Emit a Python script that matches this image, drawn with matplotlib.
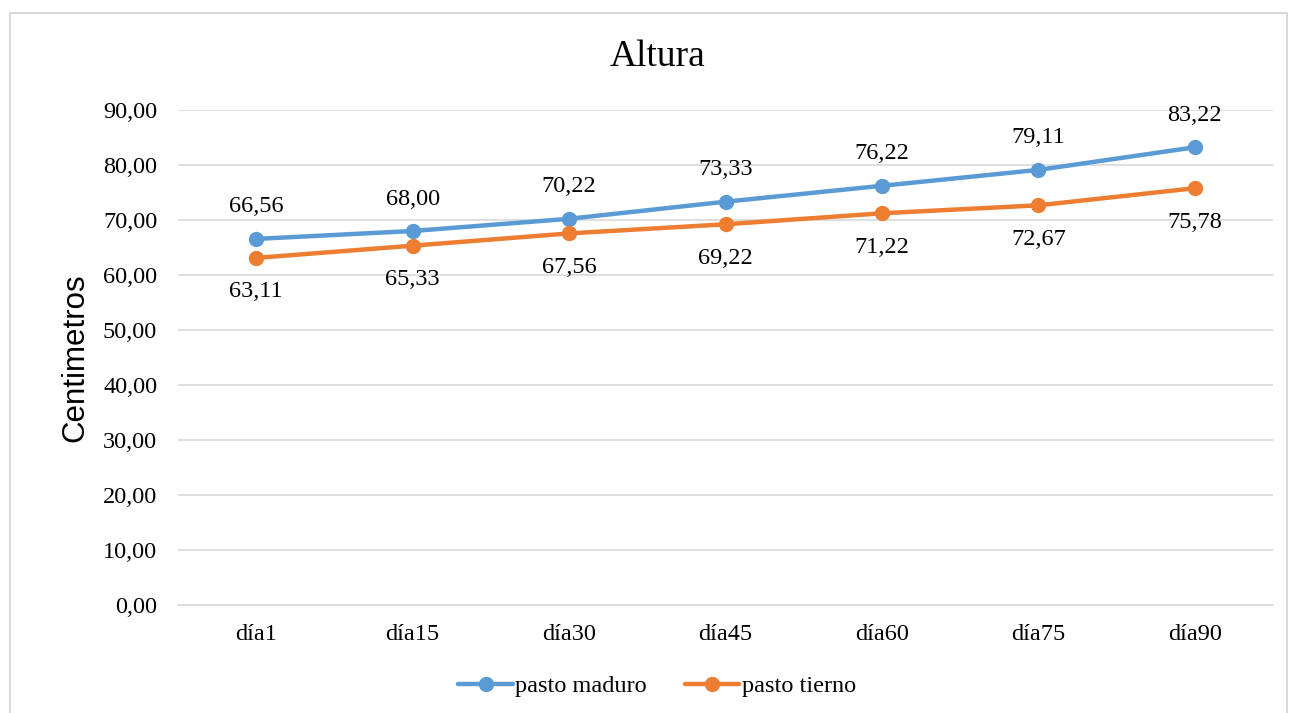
import matplotlib
matplotlib.use("Agg")
import matplotlib.pyplot as plt
from matplotlib.patches import Rectangle

categories = ["día1", "día15", "día30", "día45", "día60", "día75", "día90"]
maduro = [66.56, 68.00, 70.22, 73.33, 76.22, 79.11, 83.22]
tierno = [63.11, 65.33, 67.56, 69.22, 71.22, 72.67, 75.78]
yticks = [0, 10, 20, 30, 40, 50, 60, 70, 80, 90]

serif = "Liberation Serif"
blue = "#5B9BD5"
orange = "#ED7D31"
fs = 17.5

fig = plt.figure(figsize=(12.91, 7.13), dpi=100)
fig.patches.append(Rectangle((10/1291, -0.01), (1287-10)/1291, 1 - 13/713 + 0.01,
                             transform=fig.transFigure, fill=False,
                             edgecolor="#d9d9d9", linewidth=1.5))
ax = fig.add_axes([178/1291, 1-605/713, (1273-178)/1291, (605-110)/713])
x = list(range(len(categories)))
ax.plot(x, maduro, color=blue, lw=3.2, marker="o", ms=10, label="pasto maduro",
        solid_capstyle="round", zorder=3)
ax.plot(x, tierno, color=orange, lw=3.2, marker="o", ms=10, label="pasto tierno",
        solid_capstyle="round", zorder=3)
for xi, v in zip(x, maduro):
    ax.annotate(f"{v:.2f}".replace(".", ","), (xi, v), xytext=(0, 23),
                textcoords="offset points", ha="center", va="center",
                fontsize=fs, family=serif)
for xi, v in zip(x, tierno):
    ax.annotate(f"{v:.2f}".replace(".", ","), (xi, v), xytext=(0, -24.5),
                textcoords="offset points", ha="center", va="center",
                fontsize=fs, family=serif)
ax.set_xlim(-0.5, len(categories) - 0.5)
ax.set_ylim(0, 90)
ax.set_yticks(yticks)
ax.set_yticklabels([f"{t:.2f}".replace(".", ",") for t in yticks], family=serif, fontsize=fs)
ax.set_xticks(x)
ax.set_xticklabels(categories, family=serif, fontsize=fs)
ax.tick_params(length=0)
ax.tick_params(axis="y", pad=15)
ax.tick_params(axis="x", pad=14)
ax.grid(axis="y", color="#d9d9d9", lw=1.2)
ax.set_axisbelow(True)
for s in ["top", "right", "left"]:
    ax.spines[s].set_visible(False)
ax.spines["bottom"].set_color("#d9d9d9")
ax.spines["bottom"].set_linewidth(1.2)
ax.set_ylabel("Centimetros", family="Liberation Sans", fontsize=22.5, labelpad=9)
fig.text(657/1291, 1-57/713, "Altura", ha="center", va="center", family=serif, fontsize=27)
fig.legend(loc="center", bbox_to_anchor=(657/1291, 1-686/713), ncol=2, frameon=False,
           prop={"family": serif, "size": fs}, handlelength=2.25, handletextpad=0.1,
           columnspacing=1.55)
fig.savefig("out.png", dpi=100)
